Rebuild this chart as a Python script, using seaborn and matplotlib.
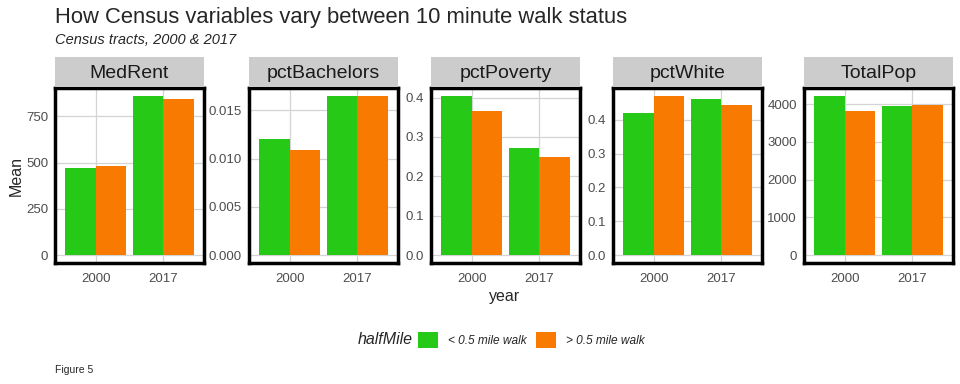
import matplotlib
matplotlib.use("Agg")
import matplotlib.pyplot as plt
from matplotlib.patches import Patch
import pandas as pd
import seaborn as sns

# values
variables = ["MedRent", "pctBachelors", "pctPoverty", "pctWhite", "TotalPop"]
years = ["2000", "2017"]
groups = ["< 0.5 mile walk", "> 0.5 mile walk"]

# mean per year (2000, 2017) for each walk group
within_half = {
    "MedRent": [470, 861],
    "pctBachelors": [0.0120, 0.0165],
    "pctPoverty": [0.404, 0.271],
    "pctWhite": [0.422, 0.462],
    "TotalPop": [4218, 3956],
}
beyond_half = {
    "MedRent": [481, 845],
    "pctBachelors": [0.0109, 0.0165],
    "pctPoverty": [0.367, 0.249],
    "pctWhite": [0.471, 0.445],
    "TotalPop": [3825, 3990],
}

tick_steps = {"MedRent": 250, "pctBachelors": 0.005, "pctPoverty": 0.1,
              "pctWhite": 0.1, "TotalPop": 1000}
tick_fmt = {"MedRent": "{:.0f}", "pctBachelors": "{:.3f}", "pctPoverty": "{:.1f}",
            "pctWhite": "{:.1f}", "TotalPop": "{:.0f}"}

rows = []
for var in variables:
    for i, yr in enumerate(years):
        rows.append((var, yr, groups[0], within_half[var][i]))
        rows.append((var, yr, groups[1], beyond_half[var][i]))
df = pd.DataFrame(rows, columns=["variable", "year", "halfMile", "Mean"])

palette = {groups[0]: "#26C916", groups[1]: "#F97A00"}

sns.set_theme(style="white")
plt.rcParams["font.family"] = ["Liberation Sans", "DejaVu Sans"]

W, H = 960, 384
fig = plt.figure(figsize=(9.6, 3.84), dpi=100)

lefts = [55, 249, 431, 613, 804]
pw = 149
p_top, p_bot = 88, 263
s_top, s_bot = 57, 87

for var, lx in zip(variables, lefts):
    ax = fig.add_axes([lx / W, 1 - p_bot / H, pw / W, (p_bot - p_top) / H])
    sub = df[df["variable"] == var]
    sns.barplot(data=sub, x="year", y="Mean", hue="halfMile", order=years,
                hue_order=groups, palette=palette, width=0.9, saturation=1,
                errorbar=None, legend=False, linewidth=0, ax=ax)
    top = sub["Mean"].max()
    ax.set_ylim(-0.05 * top, 1.05 * top)
    ax.set_xlim(-0.6, 1.6)
    step = tick_steps[var]
    ticks = [k * step for k in range(int(top // step) + 1)]
    ax.set_yticks(ticks)
    ax.set_yticklabels([tick_fmt[var].format(t) for t in ticks])
    ax.grid(True, color="#d4d4d4", linewidth=0.9)
    ax.set_axisbelow(True)
    ax.tick_params(length=0, labelsize=9.5, colors="#4d4d4d", pad=5)
    ax.tick_params(axis="x", pad=7)
    for s in ax.spines.values():
        s.set_visible(True)
        s.set_color("black")
        s.set_linewidth(2.5)
    ax.set_xlabel("")
    ax.set_ylabel("")

    sax = fig.add_axes([lx / W, 1 - s_bot / H, pw / W, (s_bot - s_top) / H])
    sax.set_facecolor("#cccccc")
    sax.set_xticks([])
    sax.set_yticks([])
    for s in sax.spines.values():
        s.set_visible(False)
    sax.text(0.5, 0.45, var, ha="center", va="center", fontsize=14,
             color="#1a1a1a", transform=sax.transAxes)

fig.text(55 / W, 1 - 17 / H, "How Census variables vary between 10 minute walk status",
         fontsize=15.8, ha="left", va="center")
fig.text(55 / W, 1 - 40 / H, "Census tracts, 2000 & 2017", fontsize=10.5,
         style="italic", ha="left", va="center")
fig.text(16 / W, 1 - 176 / H, "Mean", rotation=90, fontsize=11.5, ha="center", va="center")
fig.text(505 / W, 1 - 297 / H, "year", fontsize=11.5, ha="center", va="center")
fig.text(358 / W, 1 - 340 / H, "halfMile", fontsize=11.5, style="italic",
         ha="left", va="center")
fig.text(55 / W, 1 - 370 / H, "Figure 5", fontsize=7.5, ha="left", va="center")

handles = [Patch(facecolor=palette[g], edgecolor="none") for g in groups]
fig.legend(handles, groups, loc="center left", bbox_to_anchor=(418 / W, 1 - 340 / H),
           ncol=2, frameon=False, prop={"style": "italic", "size": 8.6},
           handlelength=1.7, handleheight=1.7, handletextpad=0.8, columnspacing=0.8,
           borderpad=0, borderaxespad=0)

fig.savefig("out.png", dpi=100)
